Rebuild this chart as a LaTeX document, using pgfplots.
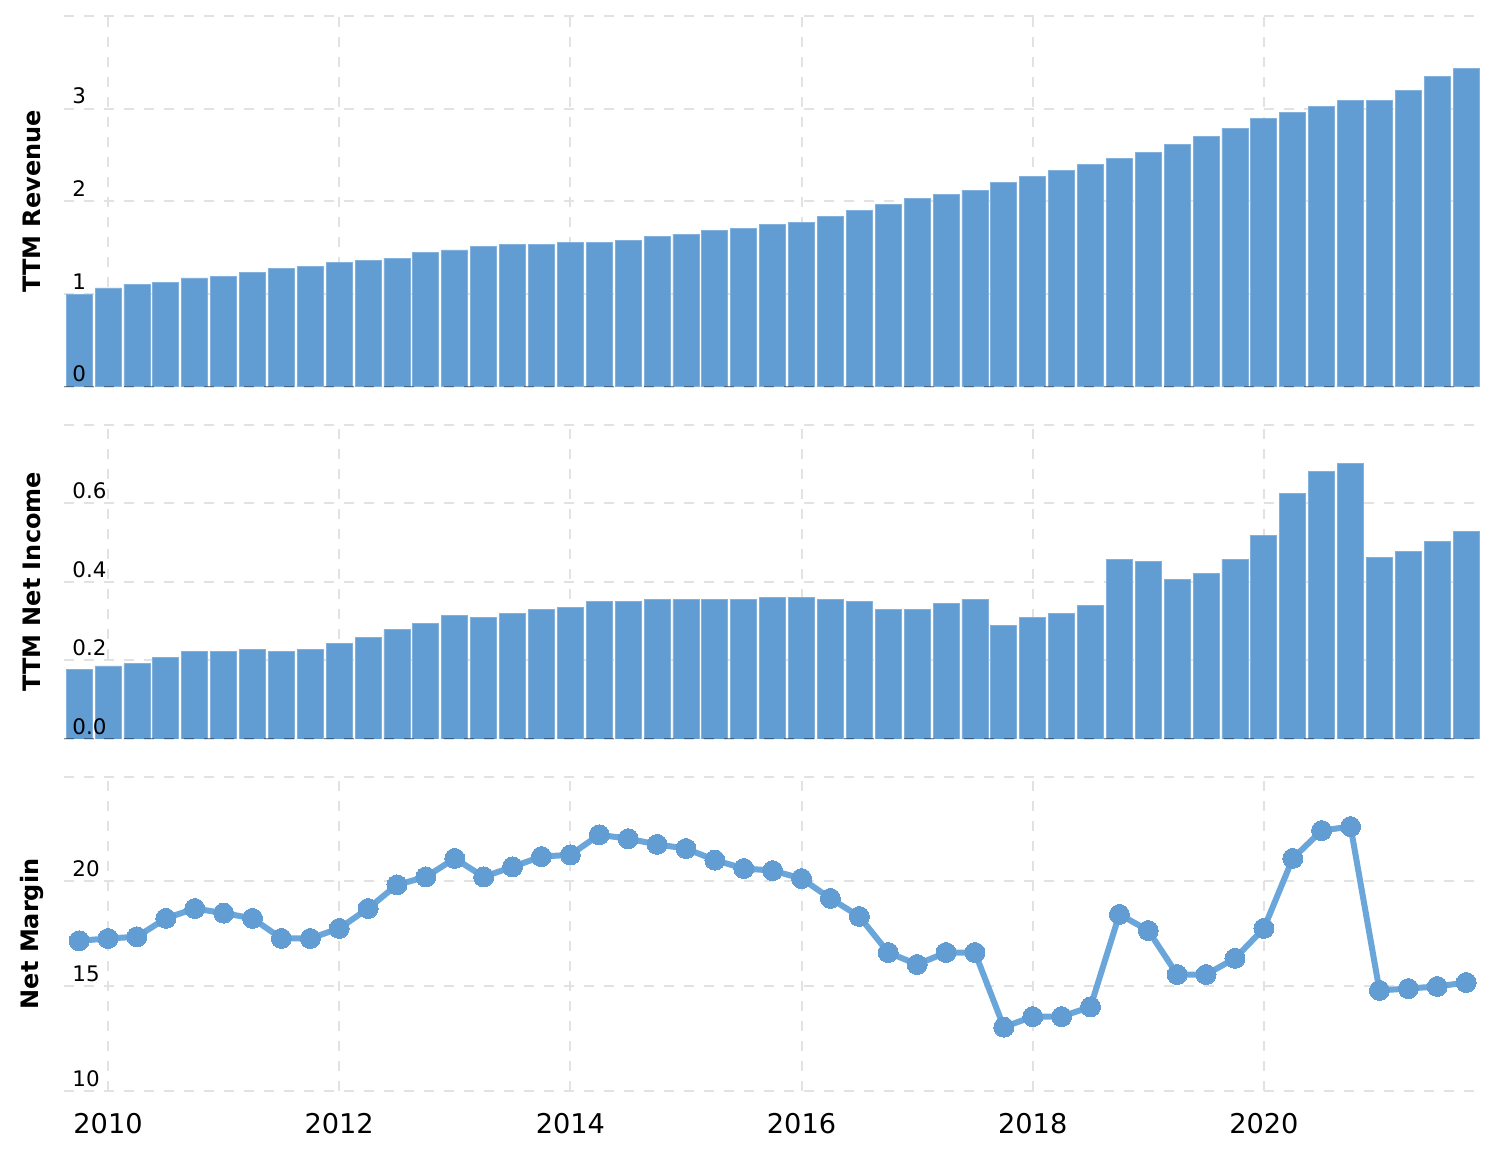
\documentclass[border=0pt]{standalone}
\usepackage{fontspec}
\setmainfont{DejaVu Sans}
\usepackage{pgfplots}
\usepackage{pgfplotstable}
\pgfplotsset{compat=1.18}

\definecolor{barblue}{RGB}{97,157,211}
\definecolor{lineblue}{RGB}{106,166,217}
\definecolor{gridgray}{RGB}{226,226,226}

% quarter end, TTM revenue, TTM net income, net margin (%)
\pgfplotstableread{
x       rev    ni     nm
2009.75 1.000  0.176  17.17
2010.00 1.065  0.186  17.28
2010.25 1.108  0.192  17.36
2010.50 1.129  0.207  18.24
2010.75 1.173  0.222  18.71
2011.00 1.194  0.222  18.49
2011.25 1.237  0.227  18.24
2011.50 1.280  0.222  17.28
2011.75 1.302  0.227  17.28
2012.00 1.345  0.243  17.76
2012.25 1.367  0.258  18.71
2012.50 1.388  0.278  19.84
2012.75 1.453  0.294  20.22
2013.00 1.475  0.314  21.10
2013.25 1.518  0.309  20.22
2013.50 1.539  0.319  20.70
2013.75 1.539  0.330  21.19
2014.00 1.561  0.335  21.27
2014.25 1.561  0.350  22.23
2014.50 1.582  0.350  22.04
2014.75 1.625  0.355  21.77
2015.00 1.647  0.355  21.57
2015.25 1.690  0.355  21.02
2015.50 1.712  0.355  20.62
2015.75 1.755  0.360  20.52
2016.00 1.777  0.360  20.14
2016.25 1.841  0.355  19.19
2016.50 1.906  0.350  18.33
2016.75 1.971  0.330  16.61
2017.00 2.036  0.330  16.04
2017.25 2.079  0.345  16.61
2017.50 2.122  0.355  16.61
2017.75 2.208  0.289  13.05
2018.00 2.272  0.309  13.55
2018.25 2.337  0.319  13.55
2018.50 2.402  0.340  14.02
2018.75 2.467  0.457  18.43
2019.00 2.532  0.452  17.66
2019.25 2.618  0.406  15.56
2019.50 2.705  0.421  15.56
2019.75 2.791  0.457  16.33
2020.00 2.899  0.519  17.76
2020.25 2.963  0.626  21.10
2020.50 3.028  0.682  22.43
2020.75 3.093  0.702  22.62
2021.00 3.093  0.462  14.80
2021.25 3.201  0.478  14.89
2021.50 3.352  0.503  14.99
2021.75 3.438  0.529  15.18
}\fin

\tikzset{
  zeroline/.style={black, opacity=0.4, line width=1pt, dash pattern=on 5pt off 5pt},
  zerolabel/.style={anchor=south west, inner sep=0pt, xshift=4pt, yshift=2pt,
    font=\fontsize{10.7}{12}\selectfont},
}

\pgfplotsset{
  panel/.style={
    scale only axis,
    width=708pt,
    xmin=2009.619, xmax=2021.87,
    xtick={2010,2012,2014,2016,2018,2020},
    xticklabels={},
    axis line style={draw=none},
    major tick style={draw=none},
    grid=major,
    major grid style={gridgray, line width=1pt, dash pattern=on 5pt off 5pt},
    yticklabel style={font=\fontsize{10.7}{12}\selectfont, anchor=south west,
      inner sep=0pt, xshift=4pt, yshift=2pt},
    ylabel style={font=\bfseries\fontsize{12}{14}\selectfont,
      at={(axis description cs:-0.0226,0.5)}, anchor=center},
  },
}

\begin{document}
\begin{tikzpicture}

\begin{axis}[panel, name=p1, at={(32pt,-8pt)}, anchor=north west,
    height=185.35pt, ymin=0, ymax=4,
    ytick={0,1,2,3,4}, yticklabels={{},1,2,3,{}},
    ylabel={TTM Revenue}, ybar, bar width=0.225]
\addplot[fill=barblue, draw=barblue!80!white, line width=0.4pt] table[x=x, y=rev] {\fin};
\draw[zeroline] (rel axis cs:0,0) -- (rel axis cs:1,0);
\node[zerolabel] at (rel axis cs:0,0) {0};
\end{axis}

\begin{axis}[panel, name=p2, at={(32pt,-212.35pt)}, anchor=north west,
    height=157.15pt, ymin=0, ymax=0.8,
    ytick={0,0.2,0.4,0.6,0.8}, yticklabels={{},0.2,0.4,0.6,{}},
    ylabel={TTM Net Income}, ybar, bar width=0.225]
\addplot[fill=barblue, draw=barblue!80!white, line width=0.4pt] table[x=x, y=ni] {\fin};
\draw[zeroline] (rel axis cs:0,0) -- (rel axis cs:1,0);
\node[zerolabel] at (rel axis cs:0,0) {0.0};
\end{axis}

\begin{axis}[panel, name=p3, at={(32pt,-388.35pt)}, anchor=north west,
    height=157.15pt, ymin=10, ymax=25,
    ytick={10,15,20,25}, yticklabels={10,15,20,{}},
    ylabel={Net Margin},
    xticklabels={2010,2012,2014,2016,2018,2020},
    xticklabel style={font=\fontsize{13.6}{15}\selectfont, anchor=north,
      inner sep=0pt, yshift=-11pt}]
\addplot[lineblue, line width=3pt, mark=*, mark size=5pt,
    mark options={fill=barblue, draw=barblue, line width=0pt}] table[x=x, y=nm] {\fin};
\end{axis}

\pgfresetboundingbox
\useasboundingbox (0,0) rectangle (751pt,-580pt);
\end{tikzpicture}
\end{document}
